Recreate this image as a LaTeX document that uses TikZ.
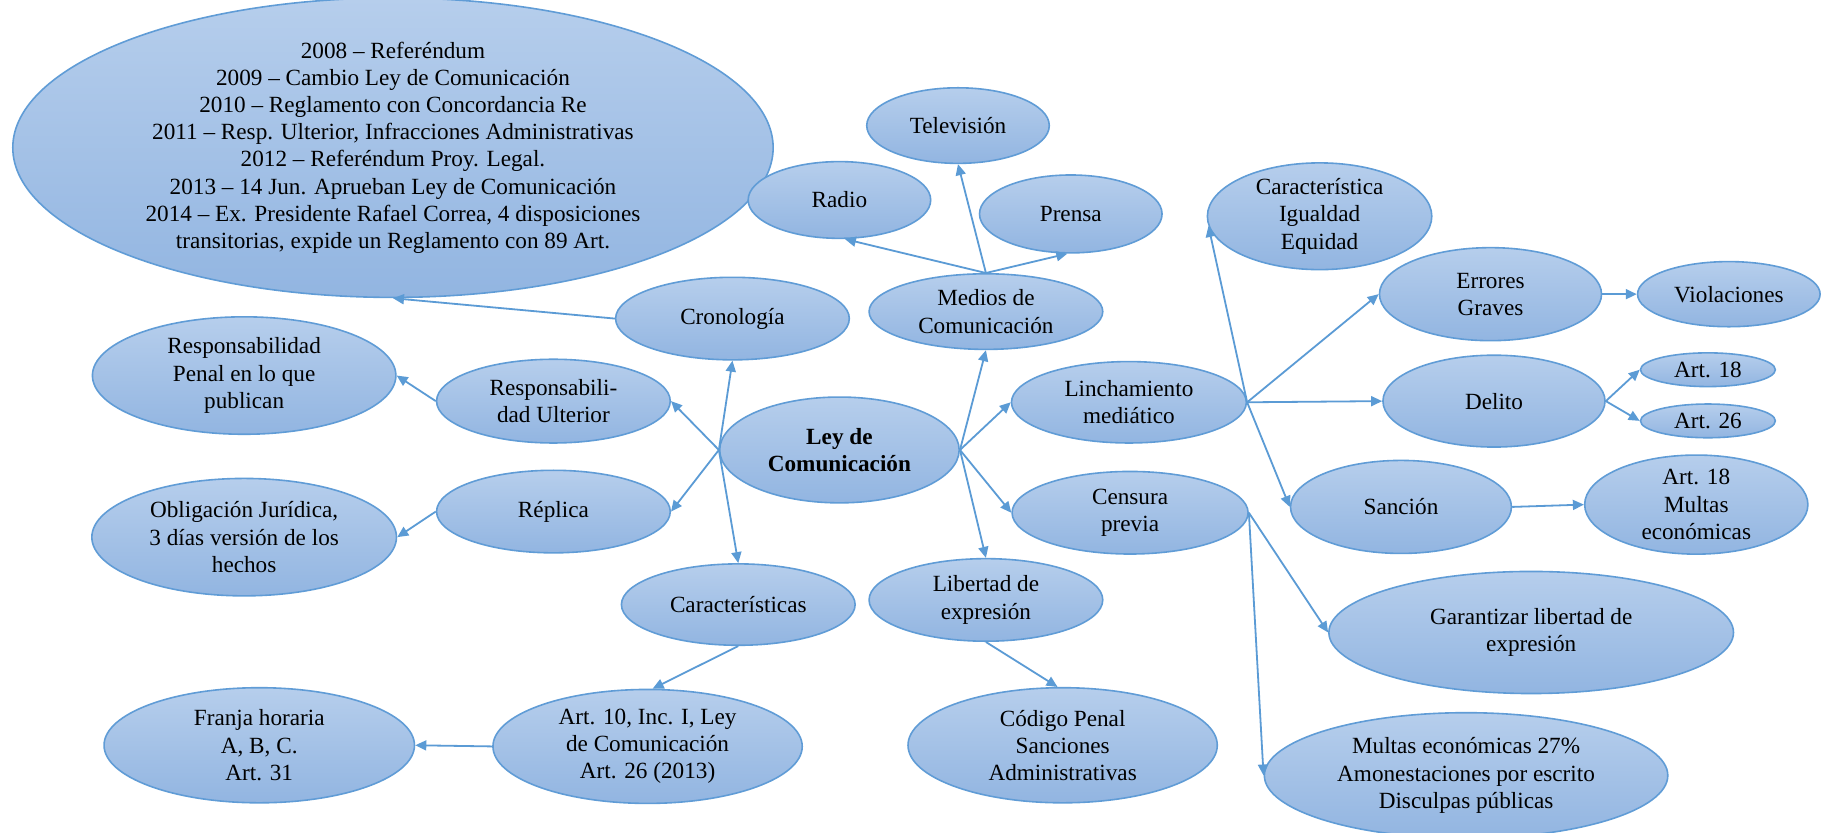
\documentclass[tikz,border=0pt]{standalone}
\usepackage{fontspec}
\setmainfont{Liberation Serif}
\usetikzlibrary{shapes.geometric,arrows.meta}
\definecolor{elb}{RGB}{96,156,214}
\definecolor{eltop}{RGB}{182,206,236}
\definecolor{elbot}{RGB}{146,181,225}
\definecolor{lnc}{RGB}{91,155,213}
\begin{document}
\begin{tikzpicture}[x=0.5813pt,y=-0.5813pt,
  el/.style 2 args={ellipse, draw=elb, line width=0.8pt, top color=eltop, bottom color=elbot,
    inner sep=0pt, minimum width=#1*0.5813pt, minimum height=#2*0.5813pt, align=center,
    font=\fontsize{11.6}{13.6}\selectfont},
  arr/.style={draw=lnc, line width=0.9pt, -{Triangle[length=5.5pt,width=5pt]}}]
\clip (0,0) rectangle (1568,716);
\fill[white] (0,0) rectangle (1568,716);

\node[el={654}{237}] (big) at (338,127) {2008 – Referéndum\\2009 – Cambio Ley de Comunicación\\2010 – Reglamento con Concordancia Re\\2011 – Resp. Ulterior, Infracciones Administrativas\\2012 – Referéndum Proy. Legal.\\2013 – 14 Jun. Aprueban Ley de Comunicación\\2014 – Ex. Presidente Rafael Correa, 4 disposiciones\\transitorias, expide un Reglamento con 89 Art.};
\node[el={201}{71}] (cron) at (630,274) {Cronología};
\node[el={201}{65}] (medios) at (848,268) {Medios de\\Comunicación};
\node[el={157}{65}] (tv) at (824,108) {Televisión};
\node[el={157}{66}] (radio) at (722,172) {Radio};
\node[el={157}{67}] (prensa) at (921,184) {Prensa};
\node[el={206}{91}, font=\fontsize{11.6}{13.6}\selectfont\bfseries] (ley) at (722,387) {Ley de\\Comunicación};
\node[el={201}{72}] (respU) at (476,345) {Responsabili-\\dad Ulterior};
\node[el={261}{101}] (respP) at (210,323) {Responsabilidad\\Penal en lo que\\publican};
\node[el={201}{71}] (replica) at (476,440) {Réplica};
\node[el={262}{101}] (oblig) at (210,462) {Obligación Jurídica,\\3 días versión de los\\hechos};
\node[el={201}{70}] (caract) at (635,520) {Características};
\node[el={266}{98}] (art10) at (557,642) {Art. 10, Inc. I, Ley\\de Comunicación\\Art. 26 (2013)};
\node[el={267}{99}] (franja) at (223,641) {Franja horaria\\A, B, C.\\Art. 31};
\node[el={201}{71}] (libertad) at (848,516) {Libertad de\\expresión};
\node[el={266}{99}] (codigo) at (914,641) {Código Penal\\Sanciones\\Administrativas};
\node[el={202}{70}] (linch) at (971,346) {Linchamiento\\mediático};
\node[el={203}{71}] (censura) at (972,441) {Censura\\previa};
\node[el={193}{81}] (caracI) at (1135,186) {Característica\\Igualdad\\Equidad};
\node[el={191}{80}] (errores) at (1282,253) {Errores\\Graves};
\node[el={157}{56}] (violac) at (1487,253) {Violaciones};
\node[el={191}{79}] (delito) at (1285,345) {Delito};
\node[el={116}{29}] (art18a) at (1469,318) {Art. 18};
\node[el={116}{29}] (art26) at (1469,362) {Art. 26};
\node[el={190}{80}] (sancion) at (1205,436) {Sanción};
\node[el={192}{74}] (art18m) at (1459,434) {Art. 18\\Multas\\económicas};
\node[el={348}{105}] (garant) at (1317,544) {Garantizar libertad de\\expresión};
\node[el={347}{108}] (multas) at (1261,667) {Multas económicas 27\%\\Amonestaciones por escrito\\Disculpas públicas};

\draw[arr] (cron.west) -- (big.south);
\draw[arr] (ley.west) -- (respU.east);
\draw[arr] (ley.west) -- (replica.east);
\draw[arr] (ley.west) -- (cron.south);
\draw[arr] (ley.west) -- (caract.north);
\draw[arr] (ley.east) -- (medios.south);
\draw[arr] (ley.east) -- (linch.west);
\draw[arr] (ley.east) -- (censura.west);
\draw[arr] (ley.east) -- (libertad.north);
\draw[arr] (medios.north) -- (tv.south);
\draw[arr] (medios.north) -- (radio.-82);
\draw[arr] (medios.north) -- (prensa.265);
\draw[arr] (respU.west) -- (respP.east);
\draw[arr] (replica.west) -- (oblig.east);
\draw[arr] (caract.south) -- (art10.85);
\draw[arr] (art10.west) -- (franja.east);
\draw[arr] (libertad.south) -- (codigo.95);
\draw[arr] (linch.east) -- (caracI.185);
\draw[arr] (linch.east) -- (errores.west);
\draw[arr] (linch.east) -- (delito.west);
\draw[arr] (linch.east) -- (sancion.west);
\draw[arr] (errores.east) -- (violac.west);
\draw[arr] (delito.east) -- (art18a.west);
\draw[arr] (delito.east) -- (art26.west);
\draw[arr] (sancion.east) -- (art18m.west);
\draw[arr] (censura.east) -- (garant.west);
\draw[arr] (censura.east) -- (multas.west);
\end{tikzpicture}
\end{document}
